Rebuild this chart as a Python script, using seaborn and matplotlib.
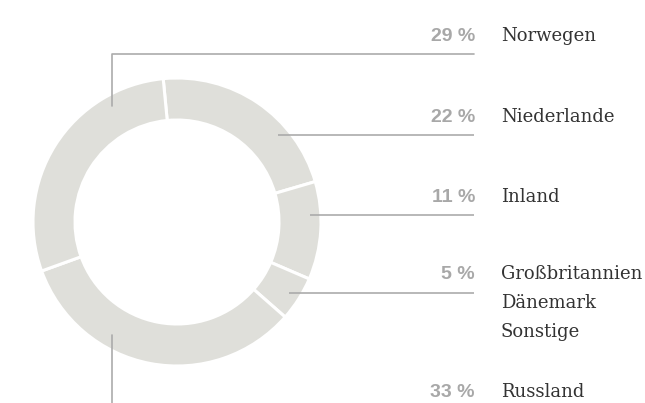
import numpy as np
import matplotlib
matplotlib.use("Agg")
import matplotlib.pyplot as plt
import seaborn as sns

# data (clockwise from the top)
countries = ["Niederlande", "Inland", "Großbritannien\nDänemark\nSonstige", "Russland", "Norwegen"]
shares = [22, 11, 5, 33, 29]

sns.set_theme(style="white")

W, H = 645, 403
fig = plt.figure(figsize=(W / 100, H / 100), dpi=100)
ax = fig.add_axes([0, 0, 1, 1])

# pixel layout of the ring: centre and outer radius
cx, cy, R = 177, 222, 144


def ux(px):
    return (px - cx) / R


def uy(py):
    return (cy - py) / R


ring = "#dfdfda"
line_c = "#ababab"
pct_c = "#a8a8a8"
name_c = "#333333"

ax.pie(shares, startangle=95.5, counterclock=False, radius=1.0,
       colors=[ring] * len(shares),
       wedgeprops=dict(width=42 / R, edgecolor="white", linewidth=2.2))

ax.set_xlim(ux(0), ux(W))
ax.set_ylim(uy(H), uy(0))
ax.set_aspect("auto")
ax.axis("off")

# leader anchor radius (inside the ring)
ra = 133 / R
x_end = ux(474)

# labels: first baseline (px), line y (px)
rows = {
    "Norwegen": (41, 54),
    "Niederlande": (122, 135),
    "Inland": (202, 215),
    "Großbritannien\nDänemark\nSonstige": (279, 293),
    "Russland": (397, None),
}
line_step = 28.8

for name, pct in zip(countries, shares):
    base, ly = rows[name]
    ax.text(ux(475), uy(base), f"{pct} %", ha="right", va="baseline",
            fontsize=14, fontweight="bold", color=pct_c, family="Liberation Sans")
    for i, part in enumerate(name.split("\n")):
        ax.text(ux(501), uy(base + i * line_step), part, ha="left", va="baseline",
                fontsize=13, color=name_c, family="DejaVu Serif")

# horizontal leaders that start inside the ring
for name in ["Niederlande", "Inland", "Großbritannien\nDänemark\nSonstige"]:
    y = uy(rows[name][1])
    x0 = np.sqrt(ra ** 2 - y ** 2)
    ax.plot([x0, x_end], [y, y], color=line_c, lw=1.2, solid_capstyle="butt")

# Norwegen: elbow line up and over
xv = ux(112)
y_top = uy(rows["Norwegen"][1])
y_in = np.sqrt(ra ** 2 - xv ** 2)
ax.plot([xv, xv, x_end], [y_in, y_top, y_top], color=line_c, lw=1.2)

# Russland: vertical line down off the canvas
ax.plot([xv, xv], [-y_in + 0.02, uy(H + 5)], color=line_c, lw=1.2)

fig.savefig("out.png", dpi=100, facecolor="white")
plt.close(fig)
